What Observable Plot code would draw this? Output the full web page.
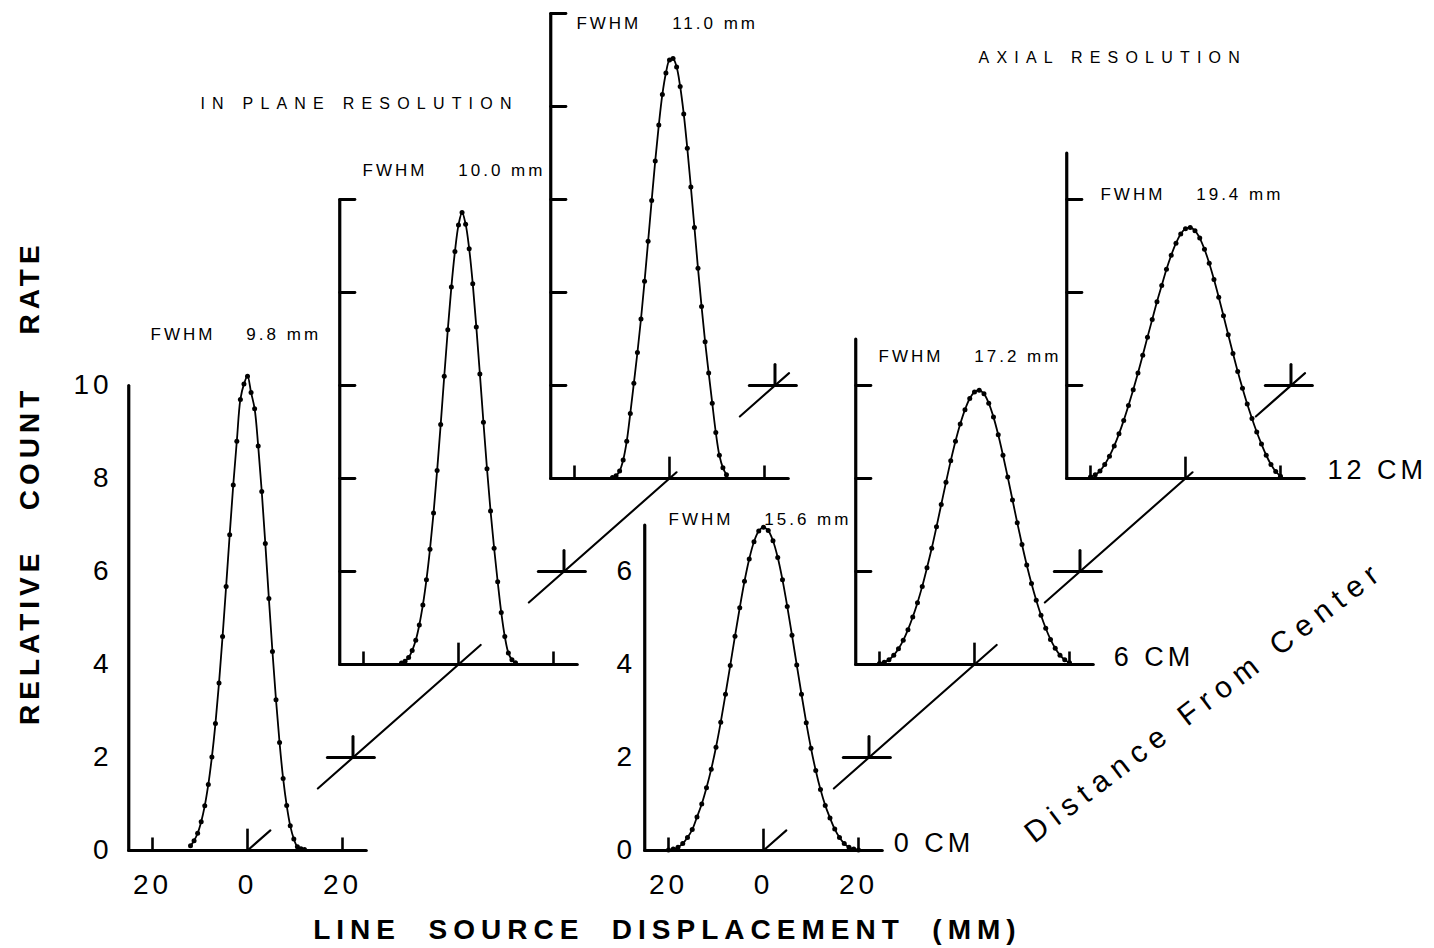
<!DOCTYPE html>
<html>
<head>
<meta charset="utf-8">
<script src="https://cdn.jsdelivr.net/npm/d3@7"></script>
<script src="https://cdn.jsdelivr.net/npm/@observablehq/plot@0.6"></script>
<style>
  html, body { margin: 0; padding: 0; background: #fff; }
  #chart svg { display: block; }
</style>
</head>
<body>
<div id="chart"></div>
<script>
// ---------------- DATA ----------------
// line source displacement (mm) sampling grids
const inPlaneDisp = [-12,-11.25,-10.5,-9.75,-9,-8.25,-7.5,-6.75,-6,-5.25,-4.5,-3.75,-3,-2.25,-1.5,-0.75,0,0.75,1.5,2.25,3,3.75,4.5,5.25,6,6.75,7.5,8.25,9,9.75,10.5,11.25,12];
const axialDisp = [-20,-19,-18,-17,-16,-15,-14,-13,-12,-11,-10,-9,-8,-7,-6,-5,-4,-3,-2,-1,0,1,2,3,4,5,6,7,8,9,10,11,12,13,14,15,16,17,18,19,20];

// relative count rate, in-plane resolution
const inPlane0cm  = [0.1,0.21,0.37,0.62,0.96,1.42,2.01,2.73,3.6,4.6,5.68,6.79,7.86,8.8,9.7,10.03,10.2,9.85,9.5,8.7,7.72,6.6,5.42,4.28,3.24,2.32,1.55,0.97,0.53,0.25,0.08,0.035,0.02];
const inPlane6cm  = [0.03,0.07,0.15,0.3,0.52,0.85,1.28,1.82,2.48,3.26,4.17,5.16,6.2,7.2,8.12,8.88,9.45,9.72,9.47,8.94,8.19,7.26,6.25,5.21,4.21,3.3,2.5,1.78,1.12,0.6,0.25,0.1,0.04];
const inPlane12cm = [0.02,0.06,0.16,0.4,0.8,1.4,2.05,2.71,3.43,4.24,5.1,5.98,6.83,7.6,8.26,8.72,9.0,9.03,8.85,8.43,7.84,7.1,6.27,5.4,4.52,3.7,2.94,2.27,1.62,0.99,0.5,0.23,0.08];

// relative count rate, axial resolution
const axial0cm  = [0.01,0.03,0.07,0.15,0.28,0.45,0.72,1.0,1.35,1.75,2.22,2.76,3.36,3.98,4.61,5.22,5.79,6.27,6.64,6.87,6.95,6.88,6.66,6.3,5.82,5.25,4.63,3.99,3.36,2.75,2.2,1.72,1.31,0.97,0.7,0.46,0.28,0.15,0.07,0.03,0.01];
const axial6cm  = [0.02,0.05,0.1,0.2,0.34,0.52,0.75,1.02,1.33,1.68,2.08,2.5,2.96,3.44,3.92,4.38,4.8,5.17,5.48,5.72,5.86,5.9,5.82,5.62,5.32,4.94,4.5,4.03,3.54,3.05,2.58,2.14,1.74,1.38,1.06,0.78,0.54,0.35,0.2,0.1,0.04];
const axial12cm = [0.03,0.08,0.16,0.3,0.48,0.7,0.96,1.25,1.57,1.91,2.27,2.65,3.04,3.42,3.8,4.15,4.5,4.8,5.06,5.26,5.37,5.4,5.33,5.17,4.93,4.63,4.28,3.9,3.5,3.09,2.69,2.3,1.94,1.6,1.29,1.0,0.74,0.5,0.3,0.15,0.05];

const fwhmValues = ["9.8 mm", "10.0 mm", "11.0 mm", "15.6 mm", "17.2 mm", "19.4 mm"];
const depthLabels = ["0 CM", "6 CM", "12 CM"];
const inPlaneYTicks = [0, 2, 4, 6, 8, 10];
const axialYTicks = [0, 2, 4, 6];
const xTickValues = [-20, 0, 20];
const xTickLabels = ["20", "0", "20"];
const depthMarkersCm = [3, 9, 15];
const titles = ["IN PLANE RESOLUTION", "AXIAL RESOLUTION"];
const yTitle = "RELATIVE\u00a0\u00a0\u00a0COUNT\u00a0\u00a0\u00a0\u00a0RATE";
const xTitle = "LINE\u00a0\u00a0SOURCE\u00a0\u00a0DISPLACEMENT\u00a0\u00a0(MM)";
const depthAxisTitle = "Distance From Center";

// ---------------- LAYOUT ----------------
const W = 1434, H = 948;
const pxPerMm = 4.75, pxPerCount = 46.5;
const originPx = [247, 850];              // pixel of the first panel's (0 mm, 0 count)
const depthStep = [44.42, 4];             // offset per 6 cm of depth (mm, count)
const groupShift = {inplane: 0, axial: 108.63};
const axisLeft = -25, axisRight = 25;
const yTickLen = 3.2, sideTickH = 0.28, centerTickH = 0.47;
const depthSegments = [[0, 0.65], [2, 6.63], [8, 12.2], [14, 15.4]];
const crossHalf = [-5.4, 4.5], crossH = 0.45;

const panels = [
  {group: "inplane", depth: 0,  disp: inPlaneDisp, rate: inPlane0cm,  top: 10, fwhm: fwhmValues[0], label: [-20.4, 11.1],  yLabels: inPlaneYTicks, yLabelX: -28.4, xLabels: true},
  {group: "inplane", depth: 6,  disp: inPlaneDisp, rate: inPlane6cm,  top: 10, fwhm: fwhmValues[1], label: [-20.2, 10.62]},
  {group: "inplane", depth: 12, disp: inPlaneDisp, rate: inPlane12cm, top: 10, fwhm: fwhmValues[2], label: [-19.6, 9.78]},
  {group: "axial",   depth: 0,  disp: axialDisp,   rate: axial0cm,    top: 7,  fwhm: fwhmValues[3], label: [-20.0, 7.12],  yLabels: axialYTicks, yLabelX: -26.8, xLabels: true, depthLabel: depthLabels[0], depthLabelPos: [27.4, 0.15]},
  {group: "axial",   depth: 6,  disp: axialDisp,   rate: axial6cm,    top: 7,  fwhm: fwhmValues[4], label: [-20.2, 6.62],  depthLabel: depthLabels[1], depthLabelPos: [29.3, 0.15]},
  {group: "axial",   depth: 12, disp: axialDisp,   rate: axial12cm,   top: 7,  fwhm: fwhmValues[5], label: [-17.9, 6.1],   depthLabel: depthLabels[2], depthLabelPos: [29.9, 0.17]}
];
panels.forEach((p, i) => {
  p.id = i;
  p.ox = groupShift[p.group] + p.depth / 6 * depthStep[0];
  p.oy = p.depth / 6 * depthStep[1];
});

const depthPoint = (group, t) => [groupShift[group] + t / 6 * depthStep[0], t / 6 * depthStep[1]];

// ---------------- derived tables ----------------
const curveRows = panels.flatMap(p => p.disp.map((d, j) => ({panel: p.id, x: p.ox + d, y: p.oy + p.rate[j]})));

const axisLines = panels.flatMap(p => [
  {x1: p.ox + axisLeft, y1: p.oy, x2: p.ox + axisLeft, y2: p.oy + p.top},
  {x1: p.ox + axisLeft, y1: p.oy, x2: p.ox + axisRight, y2: p.oy}
]);
const xTickLines = panels.flatMap(p => xTickValues.map(v => ({
  x1: p.ox + v, y1: p.oy, x2: p.ox + v, y2: p.oy + (v === 0 ? centerTickH : sideTickH)
})));
const yTickLines = panels.filter(p => !p.yLabels).flatMap(p =>
  (p.group === "inplane" ? inPlaneYTicks : axialYTicks).filter(v => v > 0).map(v => ({
    x1: p.ox + axisLeft, y1: p.oy + v, x2: p.ox + axisLeft + yTickLen, y2: p.oy + v
  })));

const depthLines = ["inplane", "axial"].flatMap(g => depthSegments.map(([a, b]) => {
  const [x1, y1] = depthPoint(g, a), [x2, y2] = depthPoint(g, b);
  return {x1, y1, x2, y2};
}));
const crossLines = ["inplane", "axial"].flatMap(g => depthMarkersCm.flatMap(t => {
  const [cx, cy] = depthPoint(g, t);
  return [
    {x1: cx + crossHalf[0], y1: cy, x2: cx + crossHalf[1], y2: cy},
    {x1: cx, y1: cy, x2: cx, y2: cy + crossH}
  ];
}));

const yLabelRows = panels.filter(p => p.yLabels).flatMap(p => p.yLabels.map(v => ({x: p.ox + p.yLabelX, y: p.oy + v, text: String(v)})));
const xLabelRows = panels.filter(p => p.xLabels).flatMap(p => xTickValues.map((v, k) => ({x: p.ox + v, y: p.oy - 0.75, text: xTickLabels[k]})));
const fwhmRows = panels.map(p => ({x: p.ox + p.label[0], y: p.oy + p.label[1], text: "FWHM\u00a0\u00a0\u00a0\u00a0" + p.fwhm}));
const depthLabelRows = panels.filter(p => p.depthLabel).map(p => ({x: p.ox + p.depthLabelPos[0], y: p.oy + p.depthLabelPos[1], text: p.depthLabel}));
const titleRows = [
  {x: -9.9, y: 16.06, text: titles[0]},
  {x: 153.9, y: 17.05, text: titles[1]}
];

const xDomain = [-originPx[0] / pxPerMm, (W - originPx[0]) / pxPerMm];
const yDomain = [-(H - originPx[1]) / pxPerCount, originPx[1] / pxPerCount];

const font = "Liberation Sans, Arial, Helvetica, sans-serif";

const svg = Plot.plot({
  width: W,
  height: H,
  margin: 0,
  x: {domain: xDomain, axis: null},
  y: {domain: yDomain, axis: null},
  style: {fontFamily: font, background: "#fff", color: "#000"},
  marks: [
    Plot.link(depthLines, {x1: "x1", y1: "y1", x2: "x2", y2: "y2", stroke: "#000", strokeWidth: 2.1, strokeLinecap: "round"}),
    Plot.link(crossLines, {x1: "x1", y1: "y1", x2: "x2", y2: "y2", stroke: "#000", strokeWidth: 3, strokeLinecap: "round"}),
    Plot.link(axisLines, {x1: "x1", y1: "y1", x2: "x2", y2: "y2", stroke: "#000", strokeWidth: 3.2, strokeLinecap: "round"}),
    Plot.link(xTickLines, {x1: "x1", y1: "y1", x2: "x2", y2: "y2", stroke: "#000", strokeWidth: 2.6}),
    Plot.link(yTickLines, {x1: "x1", y1: "y1", x2: "x2", y2: "y2", stroke: "#000", strokeWidth: 2.8, strokeLinecap: "round"}),
    Plot.line(curveRows, {x: "x", y: "y", z: "panel", curve: "catmull-rom", stroke: "#000", strokeWidth: 1.8}),
    Plot.dot(curveRows, {x: "x", y: "y", r: 2.5, fill: "#000", stroke: "none"}),
    Plot.text(yLabelRows, {x: "x", y: "y", text: "text", textAnchor: "end", fontSize: 28, ariaDescription: "ls:4"}),
    Plot.text(xLabelRows, {x: "x", y: "y", text: "text", textAnchor: "middle", fontSize: 28, ariaDescription: "ls:4"}),
    Plot.text(fwhmRows, {x: "x", y: "y", text: "text", textAnchor: "start", fontSize: 17, ariaDescription: "ls:3"}),
    Plot.text(depthLabelRows, {x: "x", y: "y", text: "text", textAnchor: "start", fontSize: 27, ariaDescription: "ls:4"}),
    Plot.text(titleRows, {x: "x", y: "y", text: "text", textAnchor: "start", fontSize: 16, ariaDescription: "ls:7.2"}),
    Plot.text([{x: -45.7, y: 7.91, text: yTitle}], {x: "x", y: "y", text: "text", rotate: -90, textAnchor: "middle", fontSize: 28, fontWeight: "bold", ariaDescription: "ls:5"}),
    Plot.text([{x: 88.4, y: -1.72, text: xTitle}], {x: "x", y: "y", text: "text", textAnchor: "middle", fontSize: 28, fontWeight: "bold", ariaDescription: "ls:6"}),
    Plot.text([{x: 201.5, y: 3.2, text: depthAxisTitle}], {x: "x", y: "y", text: "text", rotate: -37.4, textAnchor: "middle", fontSize: 30, ariaDescription: "ls:7.5"})
  ]
});

svg.querySelectorAll("g[aria-description]").forEach(g => {
  const m = /^ls:([\d.]+)$/.exec(g.getAttribute("aria-description"));
  if (m) g.setAttribute("letter-spacing", m[1]);
});

document.getElementById("chart").appendChild(svg);
</script>
</body>
</html>
